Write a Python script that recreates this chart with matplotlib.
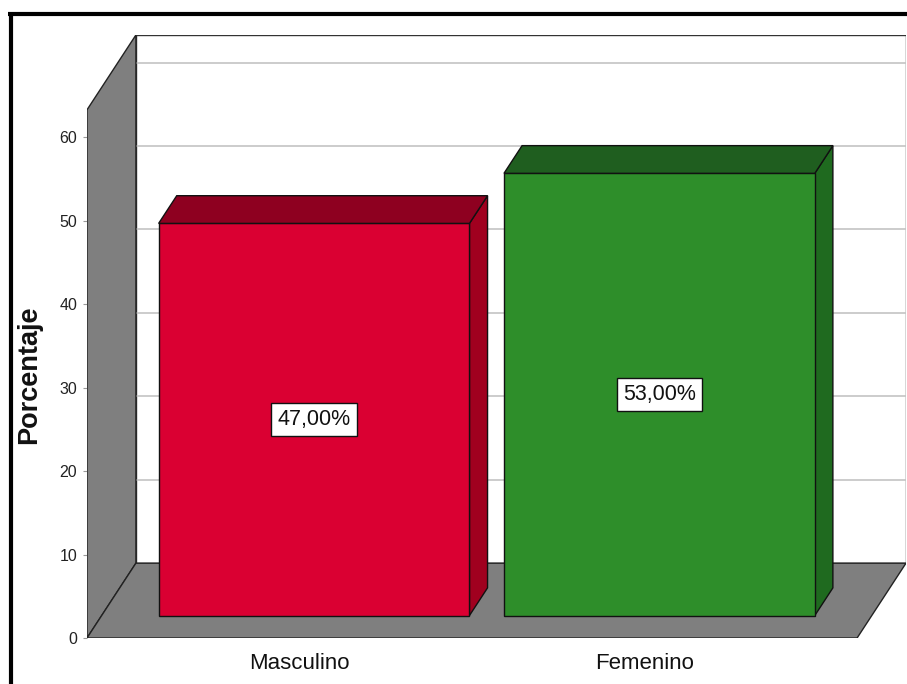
import matplotlib
matplotlib.use("Agg")
import matplotlib.pyplot as plt
from matplotlib.patches import Polygon
from matplotlib.lines import Line2D

# ---- data ----
categories = ["Masculino", "Femenino"]
porcentajes = [47.0, 53.0]
y_ticks = [0, 10, 20, 30, 40, 50, 60]
y_label = "Porcentaje"

# ---- style ----
front_colors = ["#DA0032", "#2E8E2A"]
top_colors = ["#8E0020", "#1F5E1F"]
side_colors = ["#A0001F", "#1F6A1F"]
wall_color = "#7F7F7F"
narrow = ["Liberation Sans Narrow", "Liberation Sans", "DejaVu Sans"]

W, H = 907, 684
fig = plt.figure(figsize=(W / 100, H / 100), dpi=100)
fig.patch.set_facecolor("white")

# pixel geometry of the plot region
px_left, px_right, px_bottom, px_top = 87, 906, 638, 35
ax = fig.add_axes([px_left / W, 1 - px_bottom / H,
                   (px_right - px_left) / W, (px_bottom - px_top) / H])

x_min, x_max_front = -0.615, 1.615
y_max = 63.3
DX = 0.1416   # depth offset in category units
DY = 8.97     # depth offset in percent units
ax.set_xlim(x_min, x_max_front + DX)
ax.set_ylim(0, y_max + DY)
for s in ax.spines.values():
    s.set_visible(False)
ax.set_facecolor("none")


def P(x, y, d):
    return (x + d * DX, y + d * DY)


# back wall
back = Polygon([P(x_min, 0, 1), P(x_max_front, 0, 1), P(x_max_front, y_max, 1), P(x_min, y_max, 1)],
               closed=True, facecolor="white", edgecolor="#333333", lw=1.0, zorder=1)
ax.add_patch(back)
# gridlines on back wall
for v in y_ticks[1:]:
    xa, ya = P(x_min, v, 1)
    xb, yb = P(x_max_front, v, 1)
    ax.plot([xa, xb], [ya, yb], color="#C4C4C4", lw=1.2, zorder=1.5)
# left wall
left = Polygon([P(x_min, 0, 0), P(x_min, y_max, 0), P(x_min, y_max, 1), P(x_min, 0, 1)],
               closed=True, facecolor=wall_color, edgecolor="#222222", lw=1.0, zorder=2)
ax.add_patch(left)
# floor
floor = Polygon([P(x_min, 0, 0), P(x_max_front, 0, 0), P(x_max_front, 0, 1), P(x_min, 0, 1)],
                closed=True, facecolor=wall_color, edgecolor="#222222", lw=1.0, zorder=2)
ax.add_patch(floor)

# bars
bw = 0.9
d0, d1 = 0.30, 0.67
for i, (cat, val) in enumerate(zip(categories, porcentajes)):
    xl, xr = i - bw / 2, i + bw / 2
    front = Polygon([P(xl, 0, d0), P(xr, 0, d0), P(xr, val, d0), P(xl, val, d0)],
                    closed=True, facecolor=front_colors[i], edgecolor="#111111", lw=1.0, zorder=4)
    top = Polygon([P(xl, val, d0), P(xr, val, d0), P(xr, val, d1), P(xl, val, d1)],
                  closed=True, facecolor=top_colors[i], edgecolor="#111111", lw=1.0, zorder=4)
    side = Polygon([P(xr, 0, d0), P(xr, 0, d1), P(xr, val, d1), P(xr, val, d0)],
                   closed=True, facecolor=side_colors[i], edgecolor="#111111", lw=1.0, zorder=3.5)
    ax.add_patch(side)
    ax.add_patch(front)
    ax.add_patch(top)
    cx, cy = P(i, val / 2, d0)
    ax.text(cx, cy, f"{val:.2f}%".replace(".", ","), ha="center", va="center",
            fontsize=15.5, family=narrow, color="#111111", zorder=6,
            bbox=dict(boxstyle="square,pad=0.28", facecolor="white", edgecolor="#111111", lw=1.0))

# axes ticks
ax.set_yticks(y_ticks)
ax.set_yticklabels([str(t) for t in y_ticks], family=narrow, fontsize=11.5, color="#222222")
ax.tick_params(axis="y", length=3, width=0.8, color="#999999", pad=4)
ax.set_xticks(range(len(categories)))
ax.set_xticklabels(categories, family=narrow, fontsize=16, color="#111111")
ax.tick_params(axis="x", length=0, pad=11)

fig.text(29 / W, 1 - 375 / H, y_label, rotation=90, ha="center", va="center",
         fontsize=19.5, fontweight="bold", family=["Liberation Sans", "DejaVu Sans"], color="#111111")

# outer frame (top and left edges visible)
fig.add_artist(Line2D([8 / W, 1.0], [1 - 13.5 / H, 1 - 13.5 / H], transform=fig.transFigure,
                      color="black", lw=3.0, solid_capstyle="butt"))
fig.add_artist(Line2D([10.5 / W, 10.5 / W], [1 - 12 / H, 0.0], transform=fig.transFigure,
                      color="black", lw=3.0, solid_capstyle="butt"))

fig.savefig("out.png", dpi=100)
